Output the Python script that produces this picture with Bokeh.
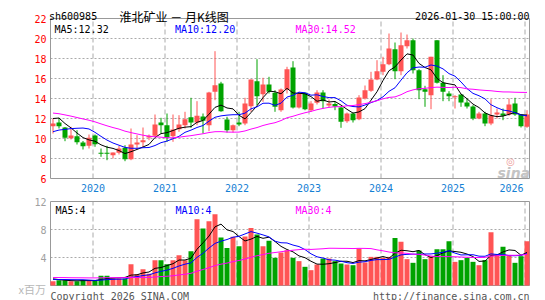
import numpy as np
import pandas as pd
from bokeh.plotting import figure
from bokeh.models import ColumnDataSource, Range1d
from bokeh.core.properties import value
from bokeh.embed import file_html
from bokeh.resources import INLINE

# ---------------- data (monthly, 2019-06 .. 2026-01) ----------------
months = pd.date_range("2019-06-01", periods=80, freq="MS")

open_ = [11.23, 11.6, 11.1, 10.03, 10.23, 9.6, 9.27, 10.3, 8.5, 8.5,
         8.33, 8.57, 9.07, 7.93, 9.4, 9.63, 10.1, 10.27, 11.6, 11.33,
         10.23, 10.93, 11.33, 12.13, 11.6, 12.2, 11.33, 14.67, 15.5, 11.9,
         10.83, 11.6, 11.5, 13.23, 15.73, 14.43, 15.4, 14.57, 12.83, 14.9,
         17.1, 13.1, 14.57, 12.83, 13.57, 14.6, 13.3, 13.45, 13.1, 11.73,
         12.5, 11.93, 14.0, 14.77, 15.9, 16.67, 17.43, 18.93, 16.73, 19.23,
         19.83, 16.83, 14.93, 14.33, 19.83, 15.57, 14.5, 14.13, 14.4, 13.6,
         13.2, 12.0, 12.5, 11.5, 12.4, 12.5, 12.4, 13.5, 12.4, 11.17]
high = [12.0, 12.07, 11.15, 11.17, 10.83, 9.75, 10.4, 10.4, 9.0, 9.27,
        8.6, 9.27, 9.33, 11.0, 10.33, 11.1, 10.4, 12.4, 12.07, 12.5,
        12.4, 12.33, 12.67, 14.07, 13.73, 12.5, 14.67, 18.73, 15.67, 12.17,
        11.4, 12.67, 14.07, 15.9, 17.93, 16.07, 16.17, 14.83, 15.0, 17.17,
        17.73, 14.67, 14.57, 13.73, 14.83, 14.83, 13.9, 13.67, 13.2, 12.6,
        12.6, 14.33, 15.3, 16.67, 17.83, 18.17, 20.5, 19.6, 20.6, 20.4,
        20.0, 16.93, 15.27, 18.17, 19.83, 16.33, 14.73, 14.33, 14.4, 14.0,
        13.33, 12.67, 12.67, 13.93, 13.0, 13.0, 14.0, 14.07, 12.4, 12.83]
low = [10.5, 11.0, 9.73, 9.9, 9.4, 8.9, 9.0, 9.17, 8.17, 7.83,
       8.0, 8.4, 7.73, 7.83, 9.0, 9.15, 9.83, 10.17, 10.5, 9.67,
       9.67, 10.67, 11.0, 11.07, 11.33, 10.5, 10.73, 13.83, 12.67, 10.6,
       10.6, 11.23, 11.33, 12.67, 13.33, 13.67, 14.5, 12.67, 12.67, 14.5,
       13.0, 13.0, 12.83, 12.67, 13.4, 13.0, 13.1, 12.83, 11.07, 11.57,
       11.6, 11.83, 13.9, 14.67, 15.83, 16.33, 17.33, 15.93, 16.33, 19.0,
       16.5, 13.93, 13.17, 12.93, 15.5, 13.73, 13.73, 13.0, 13.17, 13.0,
       11.83, 11.93, 11.23, 11.33, 12.0, 11.83, 12.27, 12.27, 11.1, 11.07]
close = [11.5, 11.23, 10.07, 10.3, 9.63, 9.23, 10.07, 9.43, 8.47, 8.47,
         8.6, 9.0, 7.93, 9.4, 9.6, 9.83, 10.27, 11.4, 11.33, 10.1,
         10.9, 11.4, 11.93, 11.6, 12.27, 11.77, 14.6, 15.33, 12.73, 10.83,
         11.33, 11.4, 13.5, 15.9, 14.23, 15.4, 14.67, 13.17, 14.9, 16.93,
         13.1, 14.5, 12.93, 13.5, 14.6, 13.73, 13.5, 13.2, 11.67, 12.5,
         11.83, 14.1, 14.83, 15.9, 16.73, 17.43, 19.0, 16.73, 19.33, 19.83,
         16.83, 14.83, 14.67, 18.17, 15.57, 14.67, 14.23, 14.17, 13.6, 13.2,
         12.0, 12.5, 11.5, 12.33, 12.6, 12.27, 13.4, 12.4, 11.23, 12.4]
volume = [0.61, 0.76, 0.76, 0.61, 0.61, 0.76, 0.76, 0.76, 1.38, 1.38,
          1.0, 1.0, 1.0, 3.04, 1.61, 2.33, 1.67, 3.61, 3.61, 3.04,
          3.61, 4.33, 3.61, 4.9, 9.47, 8.14, 9.19, 10.19, 6.86, 5.37,
          6.95, 5.61, 7.0, 8.2, 7.3, 5.6, 6.4, 3.95, 4.71, 5.04,
          3.95, 3.48, 2.67, 2.19, 3.0, 3.85, 3.85, 3.48, 3.14, 3.0,
          2.9, 5.28, 3.29, 4.09, 4.09, 3.95, 4.09, 6.8, 6.24, 3.76,
          3.24, 5.0, 3.76, 4.19, 5.19, 5.19, 6.33, 3.38, 3.62, 3.95,
          3.38, 2.9, 3.62, 7.61, 4.33, 5.52, 4.33, 3.24, 4.19, 6.33]

# months before the visible window (2017-01 .. 2019-05), only used to warm up the MAs
hist_close = [13.2, 13.6, 14.0, 13.8, 13.5, 13.9, 14.3, 14.6, 14.2, 13.9,
              13.6, 14.1, 13.8, 13.5, 13.7, 13.4, 13.0, 12.6, 11.8, 11.0,
              9.6, 9.4, 9.5, 9.3, 9.0, 11.0, 12.8, 12.5, 12.2]
hist_volume = [1.0, 0.9, 1.2, 0.8, 0.9, 1.1, 0.8, 0.9, 1.0, 0.8,
               0.9, 0.7, 2.4, 2.0, 1.8, 1.9, 1.6, 1.9, 1.7, 1.4,
               0.8, 0.7, 0.8, 0.7, 0.75, 1.3, 1.2, 0.9, 0.74]

price_ticks = [6, 8, 10, 12, 14, 16, 18, 20, 22]
vol_ticks = [0, 4, 8, 12]
price_ma_text = ["MA5:12.32", "MA10:12.20", "MA30:14.52"]
vol_ma_text = ["MA5:4", "MA10:4", "MA30:4"]
stock_code = "sh600985"
chart_title = "淮北矿业 － 月K线图"
timestamp = "2026-01-30 15:00:00"
vol_unit = "x百万"
copyright_text = "Copyright 2026 SINA.COM"
url_text = "http://finance.sina.com.cn"

# ---------------- layout constants (canvas pixels) ----------------
W, H = 545, 300
BOX_L, BOX_R = 50, 529          # plot box left / right
P_TOP, P_BOT = 18, 178          # price box
V_TOP, V_BOT = 201, 285         # volume box
SLOT, FIRST = 6, 52.5           # px per month, centre of first candle

RED, GREEN = "#ff5454", "#00a300"
MA_COLORS = ["#000000", "#0000ff", "#ff00ff"]
GRID, FRAME = "#aaaaaa", "#999999"
MONO = value("DejaVu Sans Mono")
CJK = value("Noto Sans CJK SC")

# ---------------- derived ----------------
o = np.array(open_); c = np.array(close); v = np.array(volume)
x = np.arange(len(c))
colors = np.where(c >= o, RED, GREEN)
body_bottom = np.minimum(o, c)
body_top = np.maximum(np.maximum(o, c), body_bottom + 0.1)


def moving_avg(hist, vals, n):
    full = np.concatenate([hist, vals])
    h = len(hist)
    return np.array([full[i + h - n + 1:i + h + 1].mean() for i in range(len(vals))])


src = ColumnDataSource(dict(
    x=x, h=high, l=low, top=body_top, bottom=body_bottom, color=colors, vol=v,
    ma5=moving_avg(hist_close, c, 5), ma10=moving_avg(hist_close, c, 10),
    ma30=moving_avg(hist_close, c, 30),
    vma5=moving_avg(hist_volume, v, 5), vma10=moving_avg(hist_volume, v, 10),
    vma30=moving_avg(hist_volume, v, 30),
))

year_idx = [i for i, m in enumerate(months) if m.month == 1]
year_pos = [i - 1 / 3 for i in year_idx]
year_labels = [str(months[i].year) for i in year_idx]


def k_of_px(px):
    return (px - FIRST) / SLOT


# year labels are centred on their gridline but kept inside the box
year_label_pos = [min(k, k_of_px(BOX_R - 18)) for k in year_pos]

p_lo, p_hi = min(price_ticks), max(price_ticks)
p_scale = (p_hi - p_lo) / (P_BOT - P_TOP)
v_lo, v_hi = min(vol_ticks), max(vol_ticks)
v_scale = (v_hi - v_lo) / (V_BOT - V_TOP)

p = figure(width=W, height=H,
           x_range=Range1d(k_of_px(0), k_of_px(W)),
           y_range=Range1d(p_lo - (H - P_BOT) * p_scale, p_hi + P_TOP * p_scale),
           x_axis_type=None, y_axis_type=None, output_backend="svg",
           toolbar_location=None, min_border=0, outline_line_color=None,
           background_fill_color="white", border_fill_color="white")
p.extra_y_ranges = {
    "vol": Range1d(v_lo - (H - V_BOT) * v_scale, v_hi + V_TOP * v_scale),
    "px": Range1d(H, 0),
}
p.extra_x_ranges = {"px": Range1d(0, W)}

kL, kR = k_of_px(BOX_L), k_of_px(BOX_R)


def txt(xs, ys, texts, color="black", font=MONO, size="10px", align="left",
        baseline="alphabetic", xr="default", yr="px", style="normal"):
    p.text(x=xs, y=ys, text=texts, text_color=color, text_font=font,
           text_font_size=size, text_align=align, text_baseline=baseline,
           text_font_style=style, x_range_name=xr, y_range_name=yr)


# ---------- price panel ----------
inner_p = price_ticks[1:-1]
p.segment(x0=[kL] * len(inner_p), x1=[kR] * len(inner_p), y0=inner_p, y1=inner_p,
          line_color=GRID, line_dash="2 2", line_width=1)
p.segment(x0=year_pos, x1=year_pos, y0=[p_lo] * len(year_pos), y1=[p_hi] * len(year_pos),
          line_color=GRID, line_dash="5 3", line_width=1)
p.quad(left=[kL], right=[kR], bottom=[p_lo], top=[p_hi], fill_color=None,
       line_color=FRAME, line_width=1)

p.segment(x0="x", y0="l", x1="x", y1="h", line_color="color", line_width=1, source=src)
p.vbar(x="x", width=5 / 6, top="top", bottom="bottom", fill_color="color",
       line_color=None, source=src)
for col, clr in zip(["ma5", "ma10", "ma30"], MA_COLORS):
    p.line("x", col, line_color=clr, line_width=1, source=src)

txt([BOX_L - 4] * len(price_ticks), price_ticks, [str(t) for t in price_ticks],
    color="#ff0000", align="right", baseline="middle", xr="px", yr="default")
txt(year_label_pos, [P_BOT + 9] * len(year_pos), year_labels, color="#1480d4",
    align="center", baseline="middle")
txt([BOX_L + 4 + 120.5 * i for i in range(3)], [P_TOP + 10.5] * 3, price_ma_text,
    color=MA_COLORS, xr="px")
txt([BOX_L - 1.5], [15.5], [stock_code], xr="px")
txt([119], [15.5], [chart_title], font=CJK, size="12px", xr="px")
txt([BOX_R], [15.5], [timestamp], align="right", xr="px")
txt([BOX_R - 32], [P_BOT - 6], ["sina"], color="#c4c4c4", font=value("DejaVu Sans"),
    size="14px", style="bold italic", xr="px")
txt([BOX_R - 19], [P_BOT - 17], ["◎"], color="#eea0a0", font=value("DejaVu Sans"),
    size="10px", align="center", xr="px")

# ---------- volume panel ----------
inner_v = vol_ticks[1:-1]
p.segment(x0=[kL] * len(inner_v), x1=[kR] * len(inner_v), y0=inner_v, y1=inner_v,
          line_color=GRID, line_dash="2 2", line_width=1, y_range_name="vol")
p.segment(x0=year_pos, x1=year_pos, y0=[v_lo] * len(year_pos), y1=[v_hi] * len(year_pos),
          line_color=GRID, line_dash="5 3", line_width=1, y_range_name="vol")
p.quad(left=[kL], right=[kR], bottom=[v_lo], top=[v_hi], fill_color=None,
       line_color=FRAME, line_width=1, y_range_name="vol")

p.vbar(x="x", width=5 / 6, top="vol", bottom=0, fill_color="color",
       line_color=None, source=src, y_range_name="vol")
for col, clr in zip(["vma5", "vma10", "vma30"], MA_COLORS):
    p.line("x", col, line_color=clr, line_width=1, source=src, y_range_name="vol")

vol_labels = vol_ticks[1:]
txt([BOX_L - 4] * len(vol_labels), vol_labels, [str(t) for t in vol_labels],
    color="#a0a0a0", align="right", baseline="middle", xr="px", yr="vol")
txt([BOX_L + 5 + 120 * i for i in range(3)], [V_TOP + 9] * 3, vol_ma_text,
    color=MA_COLORS, xr="px")
txt([18], [V_BOT + 3], [vol_unit], color="#b8b8b8", font=CJK, size="11px", xr="px")
txt([BOX_L], [V_BOT + 10.5], [copyright_text], color="#555555", xr="px")
txt([BOX_R], [V_BOT + 10.5], [url_text], color="#555555", align="right", xr="px")

open("out.html", "w").write(file_html(p, INLINE))
